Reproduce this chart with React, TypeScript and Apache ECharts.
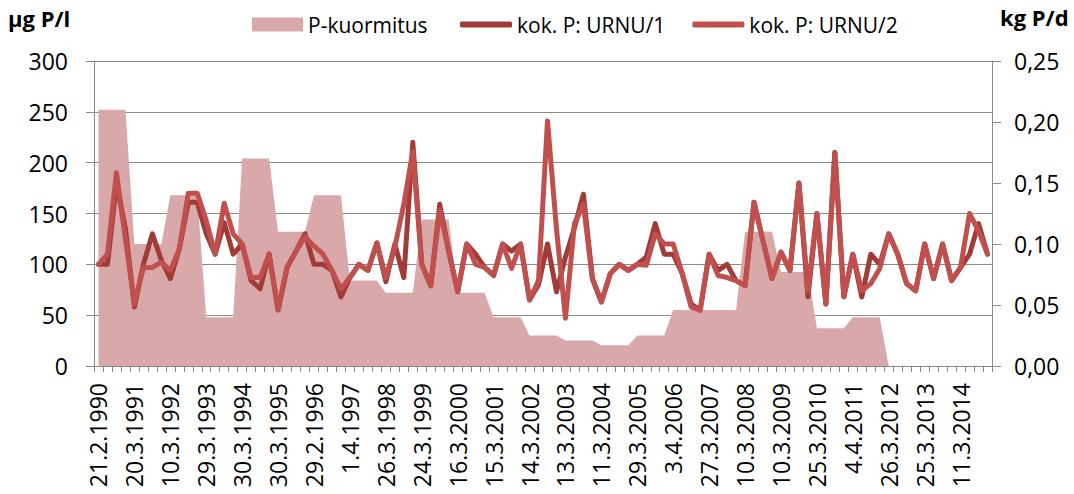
import React, { useEffect, useRef } from 'react';
import * as echarts from 'echarts';

// Visible date labels (every 4th sample)
const dateLabels = [
  '21.2.1990', '20.3.1991', '10.3.1992', '29.3.1993', '30.3.1994', '30.3.1995',
  '29.2.1996', '1.4.1997', '26.3.1998', '24.3.1999', '16.3.2000', '15.3.2001',
  '14.3.2002', '13.3.2003', '11.3.2004', '29.3.2005', '3.4.2006', '27.3.2007',
  '10.3.2008', '10.3.2009', '25.3.2010', '4.4.2011', '26.3.2012', '25.3.2013',
  '11.3.2014',
];
const categories = dateLabels.flatMap((d) => [d, '', '', '']);

// kg P/d (right axis)
const kuormitus = [
  0.21, 0.21, 0.21, 0.21, 0.10, 0.10, 0.10, 0.10, 0.14, 0.14, 0.14, 0.14,
  0.04, 0.04, 0.04, 0.04, 0.17, 0.17, 0.17, 0.17, 0.11, 0.11, 0.11, 0.11,
  0.14, 0.14, 0.14, 0.14, 0.07, 0.07, 0.07, 0.07, 0.06, 0.06, 0.06, 0.06,
  0.12, 0.12, 0.12, 0.12, 0.06, 0.06, 0.06, 0.06, 0.04, 0.04, 0.04, 0.04,
  0.025, 0.025, 0.025, 0.025, 0.021, 0.021, 0.021, 0.021, 0.017, 0.017, 0.017, 0.017,
  0.025, 0.025, 0.025, 0.025, 0.046, 0.046, 0.046, 0.046, 0.046, 0.046, 0.046, 0.046,
  0.11, 0.11, 0.11, 0.11, 0.077, 0.077, 0.077, 0.077, 0.031, 0.031, 0.031, 0.031,
  0.04, 0.04, 0.04, 0.04, 0, 0, 0, 0, 0, 0, 0, 0, 0, 0, 0, 0,
];

// µg P/l (left axis)
const urnu1 = [
  100, 100, 180, 135, 58, 100, 130, 104, 86, 115, 161, 161,
  130, 110, 141, 110, 120, 84, 76, 110, 55, 97, 113, 130,
  100, 100, 94, 68, 87, 100, 94, 121, 83, 120, 87, 220,
  100, 79, 159, 113, 73, 120, 110, 97, 89, 120, 113, 120,
  65, 80, 120, 73, 107, 136, 169, 86, 63, 91, 100, 94,
  100, 107, 140, 110, 110, 91, 61, 55, 110, 94, 100, 84,
  79, 161, 123, 86, 112, 94, 180, 68, 150, 61, 210, 68,
  110, 68, 110, 100, 130, 110, 81, 74, 120, 86, 120, 84,
  97, 110, 140, 110,
];

const urnu2 = [
  100, 110, 190, 125, 61, 97, 97, 102, 94, 115, 170, 170,
  143, 110, 160, 130, 120, 87, 87, 110, 55, 97, 113, 127,
  118, 110, 94, 76, 87, 100, 94, 121, 87, 117, 159, 211,
  100, 79, 153, 113, 73, 120, 100, 97, 89, 120, 96, 120,
  65, 84, 241, 135, 47, 140, 159, 86, 63, 91, 100, 94,
  100, 99, 130, 120, 120, 91, 58, 55, 110, 89, 87, 84,
  79, 161, 123, 86, 112, 94, 180, 74, 150, 61, 210, 68,
  110, 74, 81, 96, 130, 110, 81, 74, 120, 86, 120, 84,
  97, 150, 133, 110,
];

const FONT = 'Open Sans';
const GRID = '#8a8a8a';
const AREA = '#d9a9a9';
const DARK = '#a03b38';
const LIGHT = '#c0504d';

export default function App() {
  const ref = useRef<HTMLDivElement>(null);
  useEffect(() => {
    if (!ref.current) return;
    const chart = echarts.init(ref.current, undefined, { renderer: 'svg' });
    chart.setOption({
      animation: false,
      textStyle: { fontFamily: FONT },
      grid: { left: 94, right: 82, top: 61, bottom: 128 },
      legend: [
        {
          data: [{ name: 'P-kuormitus', icon: 'rect' }],
          left: 252,
          top: 14,
          padding: 0,
          itemWidth: 51,
          itemHeight: 14,
          textStyle: { fontFamily: FONT, fontSize: 21, color: '#000' },
        },
        {
          data: [
            { name: 'kok. P: URNU/1', icon: 'roundRect' },
            { name: 'kok. P: URNU/2', icon: 'roundRect' },
          ],
          left: 460,
          top: 14,
          padding: 0,
          itemWidth: 52,
          itemHeight: 6,
          itemGap: 27,
          textStyle: { fontFamily: FONT, fontSize: 21, color: '#000' },
        },
      ],
      graphic: [
        {
          type: 'text',
          left: 8,
          top: 7,
          style: { text: 'µg P/l', font: `bold 22px "${FONT}"`, fill: '#000' },
        },
        {
          type: 'text',
          left: 1000,
          top: 6,
          style: { text: 'kg P/d', font: `bold 22px "${FONT}"`, fill: '#000' },
        },
      ],
      xAxis: {
        type: 'category',
        data: categories,
        boundaryGap: true,
        axisLine: { lineStyle: { color: GRID, width: 1 } },
        axisTick: { show: true, interval: 0, length: 6, lineStyle: { color: GRID } },
        axisLabel: {
          interval: 3,
          rotate: 90,
          margin: 17,
          fontSize: 23,
          color: '#000',
          fontFamily: FONT,
        },
        splitLine: { show: false },
      },
      yAxis: [
        {
          type: 'value',
          min: 0,
          max: 300,
          interval: 50,
          position: 'left',
          axisLine: { show: true, lineStyle: { color: GRID } },
          axisTick: { show: true, length: 8, lineStyle: { color: GRID } },
          axisLabel: { fontSize: 23, color: '#000', margin: 26, fontFamily: FONT },
          splitLine: { show: true, lineStyle: { color: GRID, width: 1 } },
        },
        {
          type: 'value',
          min: 0,
          max: 0.25,
          interval: 0.05,
          position: 'right',
          axisLine: { show: true, lineStyle: { color: GRID } },
          axisTick: { show: true, length: 9, lineStyle: { color: GRID } },
          axisLabel: {
            fontSize: 23,
            color: '#000',
            margin: 22,
            fontFamily: FONT,
            formatter: (v: number) => v.toFixed(2).replace('.', ','),
          },
          splitLine: { show: false },
        },
      ],
      series: [
        {
          name: 'P-kuormitus',
          type: 'line',
          yAxisIndex: 1,
          data: kuormitus,
          symbol: 'none',
          lineStyle: { width: 0, color: AREA },
          itemStyle: { color: AREA },
          areaStyle: { color: AREA, opacity: 1 },
          z: 1,
        },
        {
          name: 'kok. P: URNU/1',
          type: 'line',
          yAxisIndex: 0,
          data: urnu1,
          symbol: 'none',
          itemStyle: { color: DARK },
          lineStyle: { width: 5, color: DARK, join: 'round', cap: 'round' },
          z: 3,
        },
        {
          name: 'kok. P: URNU/2',
          type: 'line',
          yAxisIndex: 0,
          data: urnu2,
          symbol: 'none',
          itemStyle: { color: LIGHT },
          lineStyle: { width: 5, color: LIGHT, join: 'round', cap: 'round' },
          z: 4,
        },
      ],
    });
    return () => chart.dispose();
  }, []);
  return (
    <div
      ref={ref}
      style={{ position: 'absolute', left: 0, top: 0, width: 1074, height: 494, background: '#fff' }}
    />
  );
}
